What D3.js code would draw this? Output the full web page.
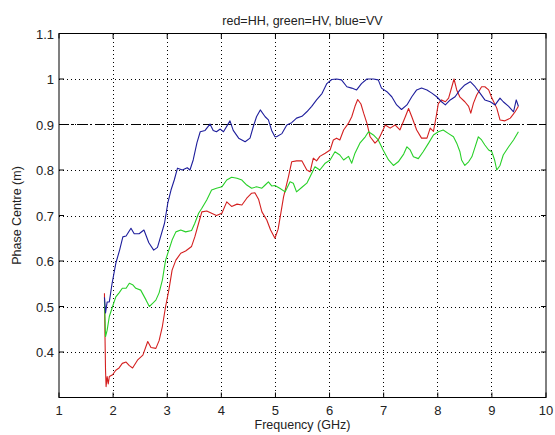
<!DOCTYPE html>
<html><head><meta charset="utf-8">
<script src="https://cdn.jsdelivr.net/npm/d3@7"></script>
<style>body{margin:0;background:#fff;} text{font-family:"Liberation Sans",Arial,sans-serif;}</style>
</head><body><svg id="c" width="555" height="435"></svg>
<script>
const title = "red=HH, green=HV, blue=VV";
const xLabel = "Frequency (GHz)";
const yLabel = "Phase Centre (m)";
const xTicks = [1,2,3,4,5,6,7,8,9,10];
const yTicks = [0.4,0.5,0.6,0.7,0.8,0.9,1,1.1];
const refLevel = 0.9;

const blueF = [1.84,1.86,1.89,1.93,1.98,2.05,2.12,2.18,2.24,2.33,2.39,2.48,2.57,2.66,2.75,2.82,2.95,3.01,3.07,3.13,3.19,3.28,3.37,3.42,3.48,3.55,3.61,3.70,3.79,3.85,3.91,3.98,4.04,4.16,4.22,4.32,4.44,4.53,4.59,4.65,4.72,4.81,4.87,4.93,4.99,5.02,5.12,5.21,5.30,5.39,5.49,5.58,5.67,5.76,5.86,5.95,6.04,6.13,6.22,6.32,6.41,6.50,6.59,6.69,6.81,6.90,6.96,7.06,7.15,7.24,7.33,7.43,7.52,7.61,7.70,7.80,7.89,7.98,8.07,8.14,8.23,8.32,8.41,8.50,8.60,8.69,8.78,8.87,8.97,9.06,9.15,9.21,9.31,9.40,9.45,9.49];
const blueV = [0.52,0.486,0.51,0.51,0.55,0.595,0.624,0.653,0.655,0.672,0.66,0.66,0.668,0.64,0.624,0.63,0.683,0.727,0.756,0.778,0.804,0.80,0.805,0.80,0.822,0.86,0.884,0.887,0.901,0.887,0.884,0.89,0.884,0.908,0.887,0.87,0.862,0.87,0.895,0.917,0.932,0.917,0.91,0.887,0.873,0.873,0.88,0.899,0.904,0.914,0.918,0.928,0.94,0.954,0.968,0.99,0.999,1.0,0.998,0.983,0.98,0.976,0.99,1.0,1.0,0.998,0.98,0.972,0.961,0.943,0.933,0.943,0.961,0.976,0.98,0.976,0.969,0.961,0.95,0.943,0.954,0.961,0.976,0.987,0.994,0.983,0.969,0.954,0.95,0.943,0.958,0.95,0.94,0.928,0.954,0.94];

const redF = [1.84,1.85,1.86,1.87,1.89,1.91,1.93,1.99,2.05,2.11,2.17,2.24,2.30,2.36,2.45,2.55,2.64,2.70,2.79,2.85,2.91,2.97,3.03,3.09,3.16,3.25,3.34,3.45,3.51,3.58,3.64,3.73,3.82,3.91,4.01,4.10,4.19,4.29,4.38,4.47,4.56,4.62,4.69,4.75,4.84,4.91,4.99,5.05,5.15,5.24,5.30,5.39,5.49,5.58,5.64,5.70,5.76,5.82,5.92,6.01,6.07,6.13,6.19,6.26,6.35,6.41,6.47,6.52,6.58,6.63,6.69,6.75,6.84,6.90,6.96,7.03,7.12,7.21,7.30,7.40,7.46,7.52,7.61,7.70,7.80,7.86,7.92,7.97,8.01,8.07,8.14,8.20,8.26,8.30,8.35,8.41,8.50,8.57,8.61,8.66,8.72,8.81,8.87,8.94,9.00,9.09,9.15,9.24,9.34,9.43,9.49];
const redV = [0.529,0.434,0.36,0.324,0.346,0.33,0.346,0.35,0.36,0.365,0.375,0.378,0.37,0.365,0.382,0.393,0.423,0.41,0.408,0.425,0.456,0.50,0.536,0.58,0.602,0.617,0.622,0.632,0.653,0.683,0.708,0.71,0.705,0.70,0.705,0.73,0.72,0.725,0.723,0.738,0.749,0.75,0.735,0.708,0.69,0.668,0.65,0.67,0.741,0.785,0.818,0.82,0.82,0.80,0.796,0.826,0.82,0.83,0.837,0.844,0.866,0.87,0.866,0.888,0.903,0.917,0.94,0.955,0.945,0.925,0.903,0.873,0.859,0.866,0.881,0.899,0.892,0.899,0.888,0.917,0.935,0.917,0.888,0.87,0.87,0.892,0.885,0.917,0.946,0.954,0.95,0.958,0.983,1.0,0.976,0.96,0.95,0.94,0.925,0.947,0.965,0.983,0.983,0.976,0.958,0.936,0.91,0.908,0.914,0.928,0.94];

const greenF = [1.84,1.86,1.89,1.93,1.99,2.05,2.11,2.17,2.24,2.30,2.36,2.42,2.51,2.61,2.67,2.73,2.79,2.85,2.91,2.97,3.03,3.09,3.16,3.25,3.34,3.45,3.51,3.58,3.64,3.73,3.82,3.91,4.01,4.10,4.19,4.29,4.38,4.47,4.56,4.65,4.75,4.81,4.87,4.93,4.99,5.08,5.18,5.27,5.33,5.39,5.49,5.58,5.64,5.73,5.82,5.92,6.01,6.10,6.19,6.26,6.35,6.41,6.47,6.56,6.66,6.72,6.81,6.90,6.99,7.09,7.18,7.27,7.37,7.43,7.49,7.55,7.64,7.73,7.83,7.92,8.01,8.10,8.20,8.29,8.35,8.41,8.44,8.50,8.57,8.63,8.69,8.75,8.81,8.87,8.94,9.00,9.05,9.09,9.15,9.21,9.31,9.40,9.49];
const greenV = [0.514,0.434,0.448,0.478,0.50,0.521,0.53,0.54,0.54,0.551,0.548,0.54,0.536,0.514,0.50,0.507,0.514,0.53,0.558,0.602,0.624,0.646,0.664,0.668,0.664,0.667,0.683,0.705,0.716,0.734,0.756,0.76,0.763,0.778,0.784,0.782,0.778,0.767,0.76,0.763,0.76,0.767,0.774,0.765,0.766,0.76,0.752,0.774,0.771,0.752,0.762,0.771,0.785,0.807,0.80,0.815,0.822,0.84,0.833,0.822,0.83,0.815,0.837,0.859,0.873,0.884,0.877,0.866,0.844,0.822,0.81,0.818,0.835,0.851,0.844,0.829,0.825,0.84,0.859,0.877,0.884,0.888,0.88,0.873,0.859,0.84,0.822,0.81,0.818,0.829,0.851,0.873,0.866,0.855,0.844,0.84,0.822,0.80,0.81,0.833,0.851,0.866,0.884];

const L=59, R=546, T=33.5, B=397.5;
const svg = d3.select("#c");
const x = d3.scaleLinear().domain([1,10]).range([L,R]);
const y = d3.scaleLinear().domain([0.3,1.1]).range([B,T]);

svg.append("rect").attr("x",0).attr("y",0).attr("width",555).attr("height",435).attr("fill","#fff");

// grid
const g = svg.append("g");
g.selectAll(".vg").data(xTicks.slice(1,-1)).enter().append("line")
  .attr("x1",d=>x(d)).attr("x2",d=>x(d)).attr("y1",T).attr("y2",B)
  .attr("stroke","#000").attr("stroke-width",1).attr("stroke-dasharray","1,3").attr("shape-rendering","crispEdges");
g.selectAll(".hg").data(yTicks.slice(0,-1)).enter().append("line")
  .attr("x1",L).attr("x2",R).attr("y1",d=>Math.round(y(d))+0.5).attr("y2",d=>Math.round(y(d))+0.5)
  .attr("stroke","#000").attr("stroke-width",1).attr("stroke-dasharray","1,3").attr("shape-rendering","crispEdges");

// reference dash-dot line
svg.append("line").attr("x1",x(1)).attr("x2",x(10)).attr("y1",Math.round(y(refLevel))+0.5).attr("y2",Math.round(y(refLevel))+0.5)
  .attr("stroke","#000").attr("stroke-width",1).attr("stroke-dasharray","10,3,2,3");

const line = d3.line().x(d=>x(d[0])).y(d=>y(d[1]));
const series = [[redF,redV,"#d42020"],[greenF,greenV,"#28d028"],[blueF,blueV,"#1e1e9c"]];
series.forEach(([F,V,c])=>{
  svg.append("path").datum(F.map((f,i)=>[f,V[i]])).attr("d",line)
    .attr("fill","none").attr("stroke",c).attr("stroke-width",1.1).attr("stroke-linejoin","round");
});

// axes box
svg.append("rect").attr("x",L).attr("y",T).attr("width",R-L).attr("height",B-T)
  .attr("fill","none").attr("stroke","#000").attr("stroke-width",1);

const tl=5;
const ax = svg.append("g");
xTicks.forEach(d=>{
  ax.append("line").attr("x1",x(d)).attr("x2",x(d)).attr("y1",B).attr("y2",B-tl).attr("stroke","#000");
  ax.append("line").attr("x1",x(d)).attr("x2",x(d)).attr("y1",T).attr("y2",T+tl).attr("stroke","#000");
  ax.append("text").attr("x",x(d)).attr("y",B+17).attr("text-anchor","middle").attr("font-size",13).attr("fill","#222").text(d);
});
yTicks.forEach(d=>{
  ax.append("line").attr("x1",L).attr("x2",L+tl).attr("y1",y(d)).attr("y2",y(d)).attr("stroke","#000");
  ax.append("line").attr("x1",R).attr("x2",R-tl).attr("y1",y(d)).attr("y2",y(d)).attr("stroke","#000");
  ax.append("text").attr("x",L-5).attr("y",y(d)+5).attr("text-anchor","end").attr("font-size",13).attr("fill","#222").text(d);
});

svg.append("text").attr("x",(L+R)/2).attr("y",25).attr("text-anchor","middle").attr("font-size",12.5).attr("fill","#222").text(title);
svg.append("text").attr("x",(L+R)/2).attr("y",429).attr("text-anchor","middle").attr("font-size",12.5).attr("fill","#222").text(xLabel);
svg.append("text").attr("transform",`translate(21,${(T+B)/2}) rotate(-90)`).attr("text-anchor","middle").attr("font-size",12.5).attr("fill","#222").text(yLabel);
</script></body></html>
